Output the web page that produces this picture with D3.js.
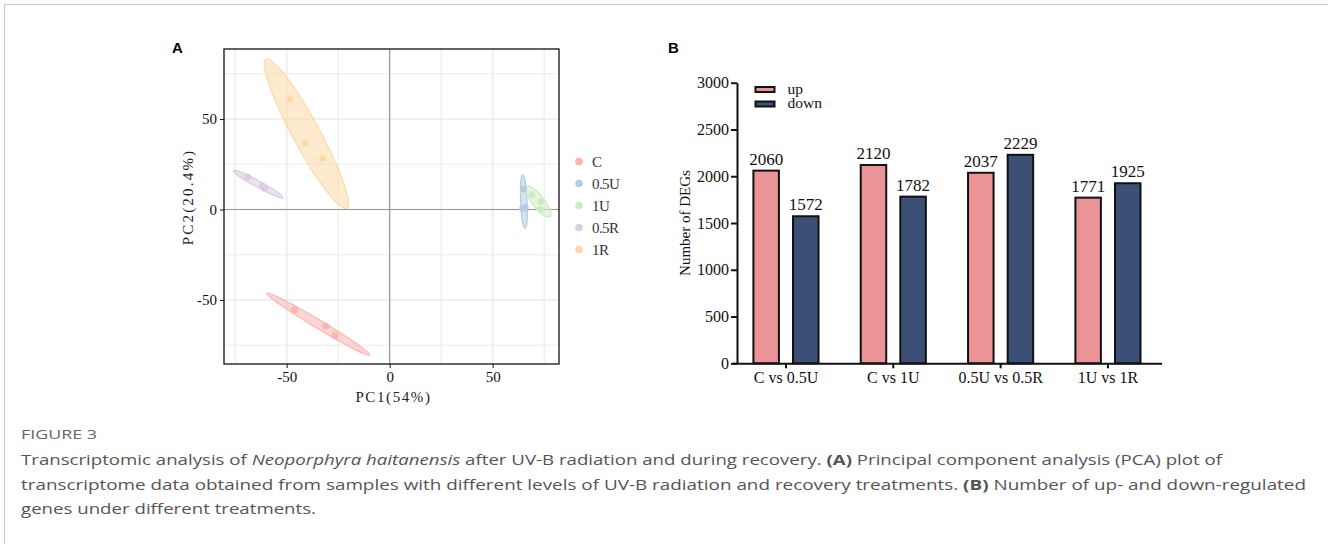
<!DOCTYPE html>
<html>
<head>
<meta charset="utf-8">
<script src="https://cdn.jsdelivr.net/npm/d3@7"></script>
<style>
  body { margin: 0; background: #fff; }
  svg text { font-family: "Liberation Serif", "Times New Roman", serif; }
</style>
</head>
<body>
<div id="chart-area"></div>
<script>
let width = 1328;
let height = 544;

// PCA samples (panel A)
const pcaGroups = ["C", "0.5U", "1U", "0.5R", "1R"];
const pcaColors = ["#FBB4AE", "#B3CDE3", "#CCEBC5", "#DECBE4", "#FED9A6"];
const sampleGroup = ["C", "C", "C", "0.5U", "0.5U", "0.5U", "1U", "1U", "1U", "0.5R", "0.5R", "0.5R", "1R", "1R", "1R"];
const samplePC1 = [-46.2, -31.0, -26.6, 65.0, 65.8, 64.5, 69.0, 73.3, 73.0, -69.0, -61.7, -60.5, -48.4, -41.0, -32.5];
const samplePC2 = [-55.5, -64.5, -69.8, 11.2, 1.1, 0.6, 8.0, 4.3, 0.1, 18.0, 13.0, 11.5, 60.9, 36.7, 28.3];

// ellipse major-axis end points (data units) and minor/major ratio
const ellipseX1 = [-59.6, 64.6, 66.5, -75.8, -60.0];
const ellipseY1 = [-46.3, 19.1, 12.6, 21.4, 83.0];
const ellipseX2 = [-9.6, 65.7, 77.8, -51.7, -20.9];
const ellipseY2 = [-80.5, -10.4, -4.0, 6.5, 0.7];
const ellipseRatio = [0.07, 0.12, 0.32, 0.11, 0.16];

const pcaTicks = [-50, 0, 50];
const pcaGrid = [-75, -50, -25, 0, 25, 50, 75];

// DEG counts (panel B)
const comparisons = ["C vs 0.5U", "C vs 1U", "0.5U vs 0.5R", "1U vs 1R"];
const upCounts = [2060, 2120, 2037, 1771];
const downCounts = [1572, 1782, 2229, 1925];
const degTicks = [0, 500, 1000, 1500, 2000, 2500, 3000];

let svg = d3.select("#chart-area")
	.append("svg")
	.attr("width", width)
	.attr("height", height);

// page frame
svg.append("rect")
	.attr("x", 4.5).attr("y", 4.5)
	.attr("width", 1330).attr("height", 600)
	.attr("fill", "none")
	.attr("stroke", "#c8c8c8")
	.attr("stroke-width", 1);

drawPCA();
drawBars();
drawCaption();

function drawPCA() {
	let left = 224, right = 559, top = 49, bottom = 364;

	let x = d3.scaleLinear().domain([-80.4, 82.2]).range([left, right]);
	let y = d3.scaleLinear().domain([88.7, -85.4]).range([top, bottom]);
	let color = d3.scaleOrdinal(pcaGroups, pcaColors);

	svg.append("text")
		.attr("x", 172).attr("y", 53)
		.style("font-family", "'Liberation Sans', Arial, sans-serif")
		.style("font-weight", "bold")
		.style("font-size", "15px")
		.text("A");

	let g = svg.append("g");

	// grid
	g.selectAll(".vgrid")
		.data(pcaGrid)
		.enter().append("line")
		.attr("x1", d => x(d)).attr("x2", d => x(d))
		.attr("y1", top).attr("y2", bottom)
		.attr("stroke", "#ebebeb")
		.attr("stroke-width", d => d % 50 === 0 ? 1.6 : 1.1);

	g.selectAll(".hgrid")
		.data(pcaGrid)
		.enter().append("line")
		.attr("y1", d => y(d)).attr("y2", d => y(d))
		.attr("x1", left).attr("x2", right)
		.attr("stroke", "#ebebeb")
		.attr("stroke-width", d => d % 50 === 0 ? 1.6 : 1.1);

	// zero lines
	g.append("line")
		.attr("x1", x(0)).attr("x2", x(0))
		.attr("y1", top).attr("y2", bottom)
		.attr("stroke", "#999").attr("stroke-width", 1.2);
	g.append("line")
		.attr("x1", left).attr("x2", right)
		.attr("y1", y(0)).attr("y2", y(0))
		.attr("stroke", "#999").attr("stroke-width", 1.2);

	// ellipses
	pcaGroups.forEach((grp, i) => {
		let x1 = x(ellipseX1[i]), y1 = y(ellipseY1[i]);
		let x2 = x(ellipseX2[i]), y2 = y(ellipseY2[i]);
		let cx = (x1 + x2) / 2, cy = (y1 + y2) / 2;
		let a = Math.hypot(x2 - x1, y2 - y1) / 2;
		let angle = Math.atan2(y2 - y1, x2 - x1) * 180 / Math.PI;
		g.append("ellipse")
			.attr("cx", cx).attr("cy", cy)
			.attr("rx", a).attr("ry", a * ellipseRatio[i])
			.attr("transform", `rotate(${angle}, ${cx}, ${cy})`)
			.attr("fill", color(grp))
			.attr("fill-opacity", 0.55)
			.attr("stroke", color(grp))
			.attr("stroke-width", 1.2);
	});

	// points
	g.selectAll("circle.pt")
		.data(d3.range(samplePC1.length))
		.enter().append("circle")
		.attr("class", "pt")
		.attr("cx", i => x(samplePC1[i]))
		.attr("cy", i => y(samplePC2[i]))
		.attr("r", 3.4)
		.attr("fill", i => color(sampleGroup[i]));

	// border
	g.append("rect")
		.attr("x", left).attr("y", top)
		.attr("width", right - left).attr("height", bottom - top)
		.attr("fill", "none")
		.attr("stroke", "#111")
		.attr("stroke-width", 1.3);

	// axes
	let xAxis = d3.axisBottom(x).tickValues(pcaTicks).tickSize(4).tickPadding(3).tickFormat(d => String(d));
	let yAxis = d3.axisLeft(y).tickValues(pcaTicks).tickSize(4).tickPadding(3).tickFormat(d => String(d));

	let gx = svg.append("g")
		.attr("transform", `translate(0, ${bottom})`)
		.call(xAxis);
	let gy = svg.append("g")
		.attr("transform", `translate(${left}, 0)`)
		.call(yAxis);

	[gx, gy].forEach(ax => {
		ax.select(".domain").remove();
		ax.selectAll("line").attr("stroke", "#111");
		ax.selectAll("text")
			.style("font-family", "'Liberation Serif', serif")
			.style("font-size", "15px")
			.attr("fill", "#111");
	});

	svg.append("text")
		.attr("x", (left + right) / 2 + 2)
		.attr("y", 402)
		.attr("text-anchor", "middle")
		.style("font-size", "15px")
		.style("letter-spacing", "1.6px")
		.attr("fill", "#222")
		.text("PC1(54%)");

	svg.append("text")
		.attr("transform", "rotate(-90)")
		.attr("x", -197)
		.attr("y", 193)
		.attr("text-anchor", "middle")
		.style("font-size", "15px")
		.style("letter-spacing", "2.2px")
		.attr("fill", "#222")
		.text("PC2(20.4%)");

	// legend
	let legend = svg.append("g")
		.attr("transform", "translate(579, 161.5)");
	pcaGroups.forEach((grp, i) => {
		legend.append("circle")
			.attr("cx", 0).attr("cy", i * 22)
			.attr("r", 3.8)
			.attr("fill", color(grp));
		legend.append("text")
			.attr("x", 13).attr("y", i * 22 + 5)
			.style("font-size", "15px")
			.style("letter-spacing", "-0.6px")
			.attr("fill", "#333")
			.text(grp);
	});
}

function drawBars() {
	let left = 737, bottom = 363.3, top = 82.7;

	let x = d3.scaleBand().domain(comparisons).range([732.3, 1161.6]);
	let xSub = d3.scaleBand().domain(["up", "down"])
		.range([0, x.bandwidth()])
		.paddingInner(0.356)
		.paddingOuter(0.533);
	let y = d3.scaleLinear().domain([0, 3000]).range([bottom, top]);
	let color = d3.scaleOrdinal(["up", "down"], ["#EB9497", "#3C5077"]);

	svg.append("text")
		.attr("x", 668).attr("y", 53)
		.style("font-family", "'Liberation Sans', Arial, sans-serif")
		.style("font-weight", "bold")
		.style("font-size", "15px")
		.text("B");

	let rows = comparisons.map((c, i) => ({ comp: c, up: upCounts[i], down: downCounts[i] }));

	let groups = svg.selectAll("g.grp")
		.data(rows)
		.enter().append("g")
		.attr("class", "grp")
		.attr("transform", d => `translate(${x(d.comp)}, 0)`);

	let bars = groups.selectAll("g.bar")
		.data(d => ["up", "down"].map(k => ({ key: k, value: d[k] })))
		.enter().append("g")
		.attr("class", "bar");

	bars.append("rect")
		.attr("x", d => xSub(d.key))
		.attr("y", d => y(d.value))
		.attr("width", xSub.bandwidth())
		.attr("height", d => bottom - y(d.value))
		.attr("fill", d => color(d.key))
		.attr("stroke", "#111")
		.attr("stroke-width", 2);

	bars.append("text")
		.attr("x", d => xSub(d.key) + xSub.bandwidth() / 2)
		.attr("y", d => y(d.value) - 6)
		.attr("text-anchor", "middle")
		.style("font-size", "17px")
		.attr("fill", "#111")
		.text(d => d.value);

	let yAxis = d3.axisLeft(y).tickValues(degTicks).tickSize(6).tickPadding(2)
		.tickSizeOuter(0).tickFormat(d3.format("d"));
	let xAxis = d3.axisBottom(x).tickSize(5).tickPadding(3).tickSizeOuter(0);

	let gy = svg.append("g")
		.attr("transform", `translate(${left}, 0)`)
		.call(yAxis);
	let gx = svg.append("g")
		.attr("transform", `translate(0, ${bottom})`)
		.call(xAxis);

	[gx, gy].forEach(ax => {
		ax.select(".domain").attr("stroke", "#111").attr("stroke-width", 2);
		ax.selectAll("line").attr("stroke", "#111").attr("stroke-width", 2);
		ax.selectAll("text")
			.style("font-family", "'Liberation Serif', serif")
			.style("font-size", "16px")
			.attr("fill", "#111");
	});

	svg.append("text")
		.attr("transform", "rotate(-90)")
		.attr("x", -(top + bottom) / 2)
		.attr("y", 690)
		.attr("text-anchor", "middle")
		.style("font-size", "15px")
		.attr("fill", "#111")
		.text("Number of DEGs");

	// legend
	["up", "down"].forEach((k, i) => {
		svg.append("rect")
			.attr("x", 755.5).attr("y", 87 + i * 14.5)
			.attr("width", 19).attr("height", 5)
			.attr("fill", color(k))
			.attr("stroke", "#111")
			.attr("stroke-width", 2);
		svg.append("text")
			.attr("x", 787.5).attr("y", 93.5 + i * 14.5)
			.style("font-size", "15.5px")
			.attr("fill", "#111")
			.text(k);
	});
}

function drawCaption() {
	let cap = svg.append("g")
		.style("font-family", "'Open Sans', 'Noto Sans', sans-serif")
		.attr("fill", "#555");

	cap.append("text")
		.attr("x", 21).attr("y", 439)
		.style("font-family", "'Open Sans', sans-serif")
		.style("font-size", "12px")
		.attr("textLength", 76)
		.attr("lengthAdjust", "spacingAndGlyphs")
		.attr("fill", "#666")
		.text("FIGURE 3");

	let l1 = cap.append("text")
		.attr("x", 21).attr("y", 465)
		.style("font-family", "'Open Sans', sans-serif")
		.style("font-size", "15px")
		.attr("textLength", 1201)
		.attr("lengthAdjust", "spacingAndGlyphs");
	l1.append("tspan").text("Transcriptomic analysis of ");
	l1.append("tspan").style("font-style", "italic").text("Neoporphyra haitanensis");
	l1.append("tspan").text(" after UV-B radiation and during recovery. ");
	l1.append("tspan").style("font-weight", "bold").text("(A)");
	l1.append("tspan").text(" Principal component analysis (PCA) plot of");

	let l2 = cap.append("text")
		.attr("x", 21).attr("y", 490)
		.style("font-family", "'Open Sans', sans-serif")
		.style("font-size", "15px")
		.attr("textLength", 1285)
		.attr("lengthAdjust", "spacingAndGlyphs");
	l2.append("tspan").text("transcriptome data obtained from samples with different levels of UV-B radiation and recovery treatments. ");
	l2.append("tspan").style("font-weight", "bold").text("(B)");
	l2.append("tspan").text(" Number of up- and down-regulated");

	cap.append("text")
		.attr("x", 21).attr("y", 514)
		.style("font-family", "'Open Sans', sans-serif")
		.style("font-size", "15px")
		.attr("textLength", 295)
		.attr("lengthAdjust", "spacingAndGlyphs")
		.text("genes under different treatments.");
}
</script>
</body>
</html>
